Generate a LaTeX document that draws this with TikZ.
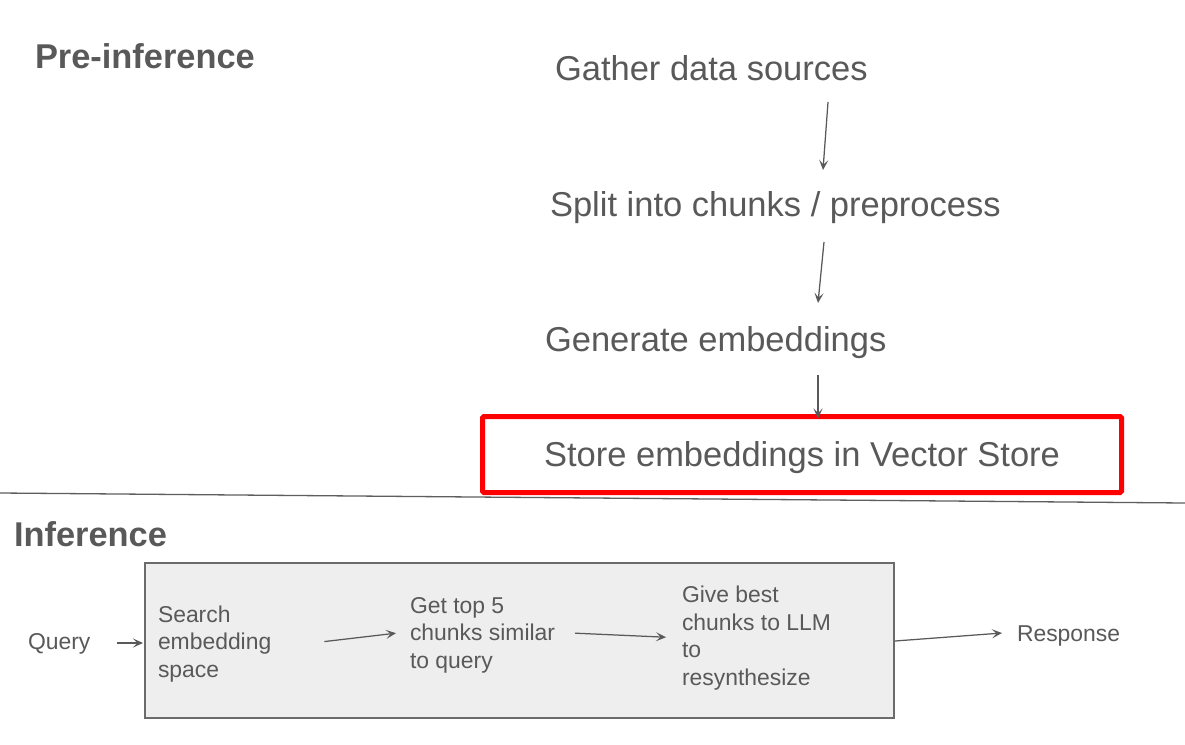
\documentclass[tikz,border=0pt]{standalone}
\usepackage{fontspec}
\setmainfont{Liberation Sans}
\usetikzlibrary{arrows.meta}
\definecolor{txt}{HTML}{595959}
\definecolor{boxfill}{HTML}{EEEEEE}
\definecolor{boxline}{HTML}{6B6B6B}
\definecolor{divline}{HTML}{5E5E5E}
\tikzset{
  big/.style={anchor=base west, inner sep=0pt, outer sep=0pt, text=txt,
    font=\fontsize{34.5}{41}\selectfont, text height=25pt, text depth=7pt},
  title/.style={anchor=base west, inner sep=0pt, outer sep=0pt, text=txt,
    font=\fontsize{34.4}{41}\selectfont\bfseries},
  small/.style={anchor=base west, inner sep=0pt, outer sep=0pt, text=txt,
    font=\fontsize{22.9}{27.5}\selectfont, text height=17pt, text depth=5pt},
  multi/.style={anchor=north west, inner sep=0pt, outer sep=0pt, text=txt,
    align=left, font=\fontsize{22.9}{27.5}\selectfont},
  arr/.style={draw=txt, line width=1.25pt, -{Stealth[length=10pt,width=9pt,inset=4.5pt]}},
}
\begin{document}
\begin{tikzpicture}[x=1pt,y=-1pt]
\fill[white] (0,0) rectangle (1185,744);
\useasboundingbox (0,0) rectangle (1185,744);

% titles
\node[title] (pre) at (35,68) {Pre-inference};
\node[title] (inf) at (14,546) {Inference};

% pre-inference pipeline
\node[big] (gather) at (555,80) {Gather data sources};
\node[big] (split) at (550,216) {Split into chunks / preprocess};
\node[big] (gen) at (545,351) {Generate embeddings};
\node[inner sep=0pt, outer sep=0pt, draw=red, line width=5pt, rounded corners=1.5pt,
      minimum width=639pt, minimum height=76pt, text=txt,
      font=\fontsize{34.5}{41}\selectfont, text height=24pt, text depth=0pt]
      (store) at (802,454.5) {Store embeddings in Vector Store};

\draw[arr] ([shift={(273,15)}]gather.south west) -- ([shift={(273,-21)}]split.north west);
\draw[arr] ([shift={(274,19)}]split.south west) -- ([shift={(273,-23)}]gen.north west);
\draw[arr] ([shift={(273,17)}]gen.south west) -- ([shift={(16,2)}]store.north);

% divider
\coordinate (divL) at (0,493);
\coordinate (divR) at (1185,503);
\draw[divline, line width=1.3pt] (divL) -- (divR);

% inference box
\node[draw=boxline, fill=boxfill, line width=1.5pt, inner sep=0pt, outer sep=0pt,
      minimum width=749pt, minimum height=155pt] (infbox) at (519.5,640.5) {};

\node[small] (query) at (28,649) {Query};
\node[multi] (search) at (158,605.4) {Search\\embedding\\space};
\node[multi] (get) at (410,597.3) {Get top 5\\chunks similar\\to query};
\node[multi] (give) at (682,586.3) {Give best\\chunks to LLM\\to\\resynthesize};
\node[small] (resp) at (1017,641) {Response};

\draw[arr] ([xshift=27pt]query.east) -- ([xshift=-2pt]query.east -| infbox.west);
\draw[arr] ([shift={(53,-2)}]search.east) -- ([shift={(-14,-2)}]get.west);
\draw[arr] ([shift={(20,-2)}]get.east) -- ([shift={(-16,-1)}]give.west);
\draw[arr] ([shift={(1,0.5)}]infbox.east) -- ([shift={(-15,-2)}]resp.west);
\end{tikzpicture}
\end{document}
